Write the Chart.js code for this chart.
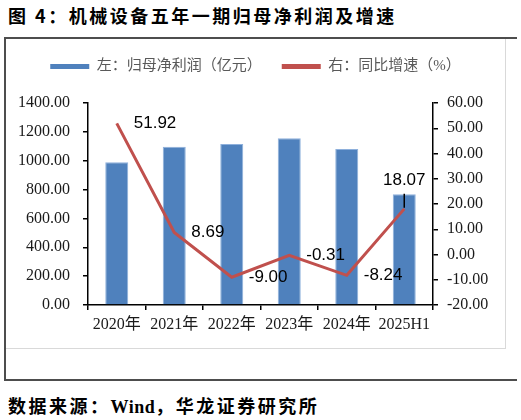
<!DOCTYPE html>
<html>
<head>
<meta charset="utf-8">
<script src="https://cdn.jsdelivr.net/npm/chart.js@4.4.0/dist/chart.umd.min.js"></script>
<style>
body{margin:0;background:#fff;width:521px;height:420px;position:relative;overflow:hidden;}
#title{position:absolute;left:8px;top:3px;font:bold 18px "Noto Sans CJK SC",sans-serif;letter-spacing:2.5px;line-height:24px;color:#000;white-space:nowrap}
#frame{position:absolute;left:4px;top:37px;width:511px;height:340px;border-top:2px solid #4d4d4d;border-left:2px solid #4d4d4d;border-bottom:2px solid #4d4d4d}
#inner{position:absolute;left:6px;top:39px;width:499px;height:309px;border-right:1px solid #d9d9d9;border-bottom:1px solid #d9d9d9}
#src{position:absolute;left:8px;top:393px;font:bold 18px "Noto Sans CJK SC",sans-serif;letter-spacing:2.5px;line-height:24px;color:#000;white-space:nowrap}
</style>
</head>
<body>
<div id="title">图 4：机械设备五年一期归母净利润及增速</div>
<div id="frame"></div>
<div id="inner"><canvas id="chart"></canvas></div>
<div id="src">数据来源：<span style="font-family:'Liberation Serif',serif;letter-spacing:0.5px">Wind</span>，华龙证券研究所</div>
<script>
const years = ['2020年', '2021年', '2022年', '2023年', '2024年', '2025H1'];
const profit = [990, 1097, 1116, 1155, 1081, 767];
const growth = [51.92, 8.69, -9.00, -0.31, -8.24, 18.07];
const labelSide = ['right', 'right', 'right', 'right', 'right', 'above'];

const serif = '"Liberation Serif", "Noto Sans CJK SC", serif';

// labels for the growth line, excel-style (right of point, last one above with a leader)
const growthLabels = {
    id: 'growthLabels',
    afterInit(chart) {
        const fit = chart.legend.fit;
        chart.legend.fit = function () {
            fit.bind(chart.legend)();
            this.height = 64;
        };
    },
    afterDatasetsDraw(chart) {
        const ctx = chart.ctx;
        const meta = chart.getDatasetMeta(1);
        ctx.save();
        ctx.font = '17px "Liberation Sans", sans-serif';
        ctx.fillStyle = '#000';
        meta.data.forEach((pt, i) => {
            let txt = growth[i].toFixed(2);
            if (labelSide[i] === 'above') {
                ctx.textAlign = 'center';
                ctx.textBaseline = 'middle';
                ctx.fillText(txt, pt.x, pt.y - 29);
                ctx.strokeStyle = '#000';
                ctx.lineWidth = 1.5;
                ctx.beginPath();
                ctx.moveTo(pt.x, pt.y - 15);
                ctx.lineTo(pt.x, pt.y - 1);
                ctx.stroke();
            } else {
                ctx.textAlign = 'left';
                ctx.textBaseline = 'middle';
                ctx.fillText(txt, pt.x + 17, pt.y);
            }
        });
        ctx.restore();
    }
};

let axisGrid = {
    display: true,
    drawOnChartArea: false,
    drawTicks: true,
    tickLength: 5,
    color: '#000',
    lineWidth: 1.5
};

let config = {
    type: 'bar',
    data: {
        labels: years,
        datasets: [{
            label: '左：归母净利润（亿元）',
            data: profit,
            yAxisID: 'y',
            backgroundColor: '#4f81bd',
            borderColor: '#8eb0dc',
            borderWidth: 1,
            barPercentage: 0.4,
            categoryPercentage: 1,
            order: 1
        }, {
            type: 'line',
            label: '右：同比增速（%）',
            data: growth,
            yAxisID: 'y1',
            borderColor: '#c0504d',
            backgroundColor: '#c0504d',
            borderWidth: 3,
            pointRadius: 0,
            tension: 0,
            order: 0
        }]
    },
    options: {
        responsive: true,
        maintainAspectRatio: false,
        animation: false,
        layout: { padding: 0 },
        plugins: {
            tooltip: { enabled: false },
            legend: {
                position: 'top',
                labels: {
                    boxWidth: 39,
                    boxHeight: 5,
                    padding: 20,
                    color: '#595959',
                    font: { family: serif, size: 15 },
                    sort: (a, b) => a.datasetIndex - b.datasetIndex,
                    generateLabels: (chart) =>
                        Chart.defaults.plugins.legend.labels.generateLabels(chart)
                            .map(l => ({ ...l, lineWidth: 0 }))
                }
            }
        },
        scales: {
            x: {
                grid: axisGrid,
                border: { color: '#000', width: 1.5 },
                ticks: { color: '#1a1a1a', font: { family: serif, size: 16 }, padding: 5, maxRotation: 0 },
                afterFit: (s) => { s.height = 43; }
            },
            y: {
                position: 'left',
                min: 0,
                max: 1400,
                grid: axisGrid,
                border: { color: '#000', width: 1.5 },
                ticks: {
                    stepSize: 200,
                    color: '#1a1a1a',
                    padding: 13,
                    font: { family: serif, size: 16 },
                    callback: (v) => v.toFixed(2)
                },
                afterFit: (s) => { s.width = 82; }
            },
            y1: {
                position: 'right',
                min: -20,
                max: 60,
                grid: axisGrid,
                border: { color: '#000', width: 1.5 },
                ticks: {
                    stepSize: 10,
                    color: '#1a1a1a',
                    padding: 9,
                    font: { family: serif, size: 16 },
                    callback: (v) => v.toFixed(2)
                },
                afterFit: (s) => { s.width = 72; }
            }
        }
    },
    plugins: [growthLabels]
};

let ctx = document.getElementById('chart').getContext('2d');
let myChart = new Chart(ctx, config);
</script>
</body>
</html>
